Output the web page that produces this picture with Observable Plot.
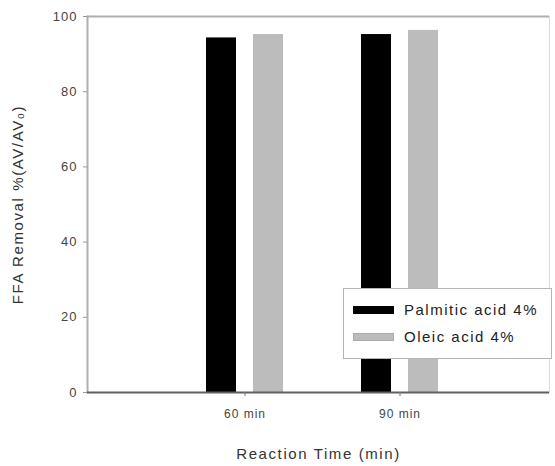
<!DOCTYPE html>
<html>
<head>
<meta charset="utf-8">
<script src="https://cdn.jsdelivr.net/npm/d3@7"></script>
<script src="https://cdn.jsdelivr.net/npm/@observablehq/plot@0.6"></script>
<style>
  html, body { margin: 0; padding: 0; background: #fff; }
  #wrap { position: relative; width: 555px; height: 466px; font-family: "Liberation Sans", Arial, sans-serif; }
  #legend { position: absolute; left: 343px; top: 288px; width: 207px; height: 69px; border: 1px solid #b5b5b5; background: #fff; box-sizing: content-box; }
  .item { position: absolute; left: 9px; display: flex; align-items: center; font-size: 15px; letter-spacing: 1.5px; color: #222; }
  .sw { width: 41px; height: 8px; margin-right: 10px; }
</style>
</head>
<body>
<div id="wrap"></div>
<script>
const times = ["60 min", "90 min"];
const series = ["Palmitic acid 4%", "Oleic acid 4%"];
const palmitic = [94.3, 95.2];
const oleic = [95.2, 96.3];
const colors = ["#000000", "#bcbcbc"];
const yTicks = [0, 20, 40, 60, 80, 100];

const rows = [];
times.forEach((t, i) => {
  rows.push({time: t, series: series[0], value: palmitic[i]});
  rows.push({time: t, series: series[1], value: oleic[i]});
});

const chart = Plot.plot({
  width: 555,
  height: 466,
  marginLeft: 87,
  marginRight: 6,
  marginTop: 16,
  marginBottom: 74,
  style: {fontFamily: "Liberation Sans, Arial, sans-serif", background: "#fff"},
  x: {domain: times, paddingInner: 0.505, paddingOuter: 0.738, align: 0.518},
  y: {domain: [0, 100]},
  color: {domain: series, range: colors},
  marks: [
    Plot.frame({stroke: "#dddddd", strokeWidth: 1}),
    Plot.barY(rows.filter(d => d.series === series[0]), {x: "time", y: "value", fill: "series", insetRight: 47}),
    Plot.barY(rows.filter(d => d.series === series[1]), {x: "time", y: "value", fill: "series", insetLeft: 47}),
    Plot.ruleY([100], {stroke: "#b0b0b0", strokeWidth: 2}),
    Plot.frame({anchor: "left", stroke: "#b0b0b0", strokeWidth: 2}),
    Plot.ruleY([0], {stroke: "#606060", strokeWidth: 2}),
    Plot.axisY({ticks: yTicks, tickSize: 4, tickPadding: 6, fontSize: 13, color: "#444", stroke: "#999",
      label: "FFA Removal %(AV/AV\u2080)", labelAnchor: "center", labelArrow: "none", labelOffset: 75}),
    Plot.axisX({tickSize: 4, tickPadding: 13, fontSize: 12, color: "#444", stroke: "#777",
      label: "Reaction Time (min)", labelAnchor: "center", labelArrow: "none", labelOffset: 66})
  ]
});

const wrap = document.getElementById("wrap");
wrap.appendChild(chart);
const svg = d3.select(chart);
svg.selectAll("[aria-label='y-axis label'] text, [aria-label='x-axis label'] text")
  .style("font-size", "15px").style("letter-spacing", "1.6px").attr("fill", "#333");
svg.selectAll("[aria-label='y-axis tick label'] text").style("letter-spacing", "1px");
svg.selectAll("[aria-label='x-axis tick label'] text").style("letter-spacing", "1px");

const legend = d3.select(wrap).append("div").attr("id", "legend");
series.forEach((s, i) => {
  const item = legend.append("div").attr("class", "item").style("top", (i === 0 ? 12 : 39) + "px");
  item.append("div").attr("class", "sw").style("background", colors[i])
    .style("border", i === 1 ? "1px solid #aaa" : "none").style("box-sizing", "border-box");
  item.append("span").text(s);
});
</script>
</body>
</html>
